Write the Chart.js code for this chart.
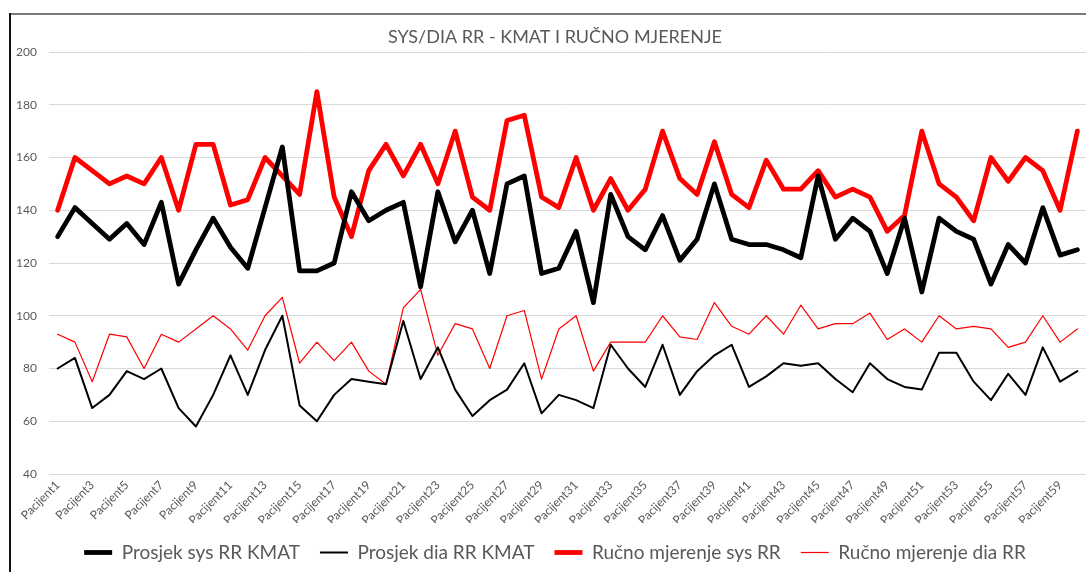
<!DOCTYPE html>
<html>
<head>
<meta charset="utf-8">
<script src="https://cdn.jsdelivr.net/npm/chart.js@4.4.1/dist/chart.umd.min.js"></script>
<style>
  html, body { margin: 0; padding: 0; background: #fff; overflow: hidden; }
  #wrap { position: relative; width: 1086px; height: 572px; overflow: hidden; }
  #frameTop { position: absolute; left: 9px; top: 13px; width: 1077px; height: 2px; background: #7a7a7a; }
  #frameLeft { position: absolute; left: 9px; top: 13px; width: 2px; height: 559px; background: #111; }
  canvas { position: absolute; left: 0; top: 0; }
</style>
</head>
<body>
<div id="wrap">
  <canvas id="c" width="1110" height="572"></canvas>
  <div id="frameTop"></div>
  <div id="frameLeft"></div>
</div>
<script>
const categories = [
  'Pacijent1','Pacijent2','Pacijent3','Pacijent4','Pacijent5','Pacijent6','Pacijent7','Pacijent8','Pacijent9','Pacijent10',
  'Pacijent11','Pacijent12','Pacijent13','Pacijent14','Pacijent15','Pacijent16','Pacijent17','Pacijent18','Pacijent19','Pacijent20',
  'Pacijent21','Pacijent22','Pacijent23','Pacijent24','Pacijent25','Pacijent26','Pacijent27','Pacijent28','Pacijent29','Pacijent30',
  'Pacijent31','Pacijent32','Pacijent33','Pacijent34','Pacijent35','Pacijent36','Pacijent37','Pacijent38','Pacijent39','Pacijent40',
  'Pacijent41','Pacijent42','Pacijent43','Pacijent44','Pacijent45','Pacijent46','Pacijent47','Pacijent48','Pacijent49','Pacijent50',
  'Pacijent51','Pacijent52','Pacijent53','Pacijent54','Pacijent55','Pacijent56','Pacijent57','Pacijent58','Pacijent59','Pacijent60'
];

const sysKMAT = [130,141,135,129,135,127,143,112,125,137, 126,118,141,164,117,117,120,147,136,140,
                 143,111,147,128,140,116,150,153,116,118, 132,105,146,130,125,138,121,129,150,129,
                 127,127,125,122,153,129,137,132,116,137, 109,137,132,129,112,127,120,141,123,125];

const diaKMAT = [80,84,65,70,79,76,80,65,58,70, 85,70,87,100,66,60,70,76,75,74,
                 98,76,88,72,62,68,72,82,63,70, 68,65,89,80,73,89,70,79,85,89,
                 73,77,82,81,82,76,71,82,76,73, 72,86,86,75,68,78,70,88,75,79];

const sysManual = [140,160,155,150,153,150,160,140,165,165, 142,144,160,153,146,185,145,130,155,165,
                   153,165,150,170,145,140,174,176,145,141, 160,140,152,140,148,170,152,146,166,146,
                   141,159,148,148,155,145,148,145,132,138, 170,150,145,136,160,151,160,155,140,170];

const diaManual = [93,90,75,93,92,80,93,90,95,100, 95,87,100,107,82,90,83,90,79,74,
                   103,110,85,97,95,80,100,102,76,95, 100,79,90,90,90,100,92,91,105,96,
                   93,100,93,104,95,97,97,101,91,95, 90,100,95,96,95,88,90,100,90,95];

const yTicks = [40, 60, 80, 100, 120, 140, 160, 180, 200];

const seriesNames = ['Prosjek sys RR KMAT', 'Prosjek dia RR KMAT', 'Ručno mjerenje sys RR', 'Ručno mjerenje dia RR'];
const chartTitle = 'SYS/DIA RR - KMAT I RUČNO MJERENJE';

const textColor = '#595959';
const fontFamily = 'Lato, "Open Sans", sans-serif';

function ds(label, data, color, width) {
  return {
    label, data,
    borderColor: color, backgroundColor: color,
    borderWidth: width, pointRadius: 0, pointHoverRadius: 0,
    tension: 0, borderJoinStyle: 'round', borderCapStyle: 'round', fill: false
  };
}

new Chart(document.getElementById('c'), {
  type: 'line',
  data: {
    labels: categories,
    datasets: [
      ds(seriesNames[0], sysKMAT, '#000000', 4.8),
      ds(seriesNames[1], diaKMAT, '#000000', 2),
      ds(seriesNames[2], sysManual, '#ff0000', 4.8),
      ds(seriesNames[3], diaManual, '#ff0000', 1.2)
    ]
  },
  options: {
    responsive: false,
    animation: false,
    devicePixelRatio: 1,
    layout: { padding: 0 },
    plugins: {
      title: {
        display: true, text: chartTitle, color: textColor,
        font: { family: fontFamily, size: 18, weight: 'normal' },
        padding: { top: 26, bottom: 4.4 }
      },
      legend: {
        display: true, position: 'bottom',
        labels: {
          color: textColor,
          font: { family: fontFamily, size: 19 },
          usePointStyle: true, pointStyle: 'line', pointStyleWidth: 28,
          padding: 20
        }
      },
      tooltip: { enabled: false }
    },
    scales: {
      x: {
        offset: true,
        grid: { display: false, drawTicks: false },
        border: { display: false },
        ticks: {
          autoSkip: false, maxRotation: 45, minRotation: 45,
          color: textColor, padding: 4,
          font: { family: fontFamily, size: 12 },
          callback: function (v, i) { return i % 2 === 0 ? this.getLabelForValue(v) : ''; }
        },
        afterFit: function (s) { s.height = 49; }
      },
      y: {
        min: 40, max: 200,
        afterBuildTicks: function (s) { s.ticks = yTicks.map(v => ({ value: v })); },
        grid: { color: '#d9d9d9', lineWidth: 1, drawTicks: false },
        border: { display: false },
        ticks: { color: textColor, padding: 12, font: { family: fontFamily, size: 12 } },
        afterFit: function (s) { s.width = 49; }
      },
      yRightSpacer: {
        type: 'linear', position: 'right', display: true, min: 0, max: 1,
        grid: { display: false, drawTicks: false },
        border: { display: false },
        ticks: { display: false },
        afterFit: function (s) { s.width = 24; }
      }
    }
  }
});
</script>
</body>
</html>
